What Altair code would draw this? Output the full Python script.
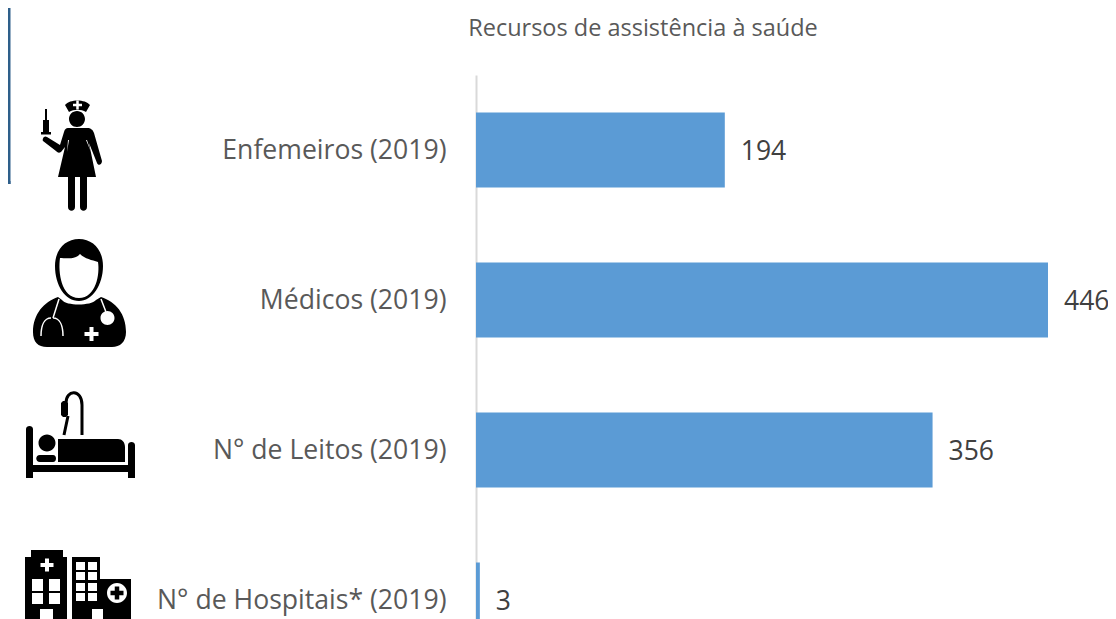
import re
import altair as alt
import pandas as pd

categories = ["Enfemeiros (2019)", "Médicos (2019)", "N° de Leitos (2019)", "N° de Hospitais* (2019)"]
values = [194, 446, 356, 3]
title_text = "Recursos de assistência à saúde"

FONT = "Open Sans"
PX_X0, PX_Y0 = 476, 75


def circle(cx, cy, r):
    k = 0.5523 * r
    return (f"M{cx-r} {cy} C{cx-r} {cy-k} {cx-k} {cy-r} {cx} {cy-r} "
            f"C{cx+k} {cy-r} {cx+r} {cy-k} {cx+r} {cy} "
            f"C{cx+r} {cy+k} {cx+k} {cy+r} {cx} {cy+r} "
            f"C{cx-k} {cy+r} {cx-r} {cy+k} {cx-r} {cy} Z ")


def rect(x0, y0, x1, y1):
    return f"M{x0} {y0} L{x1} {y0} L{x1} {y1} L{x0} {y1} Z "


def plus(cx, cy, s, t):
    return rect(cx - s / 2, cy - t / 2, cx + s / 2, cy + t / 2) + rect(cx - t / 2, cy - s / 2, cx + t / 2, cy + s / 2)


def norm(path, cx, cy, h):
    nums = iter(range(10 ** 6))

    def sub(m):
        i = next(nums)
        v = float(m.group(0))
        c = cx if i % 2 == 0 else cy
        return f"{(v - c) / h:.4f}"

    return re.sub(r"-?\d+\.?\d*", sub, path)


def glyph(path, cx, cy, h, fill=None, stroke=None, sw=1.5):
    kw = dict(shape=norm(path, cx, cy, h), size=(2 * h) ** 2, opacity=1)
    if fill:
        kw.update(filled=True, fill=fill, strokeWidth=0)
    else:
        kw.update(filled=False, stroke=stroke, strokeWidth=sw)
    return alt.Chart(alt.Data(values=[{}])).mark_point(**kw).encode(
        x=alt.value(cx - PX_X0), y=alt.value(cy - PX_Y0)
    )


BLACK, WHITE = "#000000", "#ffffff"

# nurse
nurse_c = (71.5, 155.5, 57)
nurse = (
    "M65 105 C70 99 85 99 90 105 L86 112 C81 109 74 109 69 112 Z "
    + circle(77, 119, 8)
    + "M68 128 L87 128 C91 128 93 130 94 133 L102 161 C102 165 98 166 97 163 L89 143 L96 177 "
      "L87 177 L87 207 C87 212 80 212 80 207 L80 177 L75 177 L75 207 C75 212 68 212 68 207 L68 177 "
      "L58 177 L65 147 L61 152 C59 153 58 153 56 151 L43 141 C42 139 44 135 47 137 L60 145 L64 132 C65 129 66 128 68 128 Z "
    + rect(43, 120, 49, 132) + rect(41, 132, 51, 134.5) + rect(45, 109, 47, 120)
)
nurse_w = plus(77.5, 105, 9, 2.5) + "M69 140 L67 152 L68 140 Z M86 140 L91 152 L87 140 Z "

# doctor
doc_c = (79.5, 293, 57)
doctor = (
    "M79 239 C93 239 103 250 103 266 C103 285 92 301 79 301 C65 301 55 285 55 266 C55 250 65 239 79 239 Z "
    "M58 297 L62 300 C66 306 91 306 96 300 L101 297 C116 302 126 314 126 332 C126 342 120 347 112 347 "
    "L47 347 C38 347 33 342 33 332 C33 314 44 302 58 297 Z "
)
doctor_w = (
    "M80 254 C75 260 65 258 60 258 C58 272 61 298 79 298 C96 298 100 274 98 262 C92 260 85 259 80 254 Z "
    + circle(107.5, 318, 7) + plus(91.5, 334, 14, 4)
)
doctor_s = (
    "M59 299 L53 318 M51 318 C44 318 41 326 41 336 M53 318 C60 318 63 326 63 336 "
    "M101 299 L106 312 "
)

# bed
bed_c = (80.5, 436, 57)
bed = (
    "M26 429 C26 425 33 425 33 429 L33 465 L128 465 L128 445 C128 441 135 441 135 445 L135 478 L128 478 L128 472 "
    "L33 472 L33 478 L26 478 Z "
    + circle(47, 443, 8.5)
    + "M40 455 L53 455 C57 455 57 462 53 462 L40 462 C35 462 35 455 40 455 Z "
    + "M58 439 L118 439 C122 439 125 442 125 447 L125 462 L58 462 Z "
    + "M61 403 L63 401 L66 401 L68 403 L68 415 L66 417 L63 417 L61 415 Z "
)
bed_s = "M82 435 L82 405 C82 389 66 389 66 403 M68 416 L64 435 "

# hospital
hosp_c = (78, 590, 56)
hosp = (
    rect(31, 550, 63, 558) + rect(25, 557, 67, 640)
    + rect(72, 557, 100, 640) + rect(100, 579, 131, 640)
)
hosp_w = (
    plus(47, 565, 13, 4)
    + rect(32, 579, 43, 591) + rect(49, 579, 60, 591)
    + rect(32, 593, 43, 604) + rect(49, 593, 60, 604)
    + rect(40, 609, 53, 640)
    + rect(76, 562, 85, 570) + rect(88, 562, 97, 570)
    + rect(76, 572, 85, 580) + rect(88, 572, 97, 580)
    + rect(76, 583, 85, 591) + rect(88, 583, 97, 591)
    + rect(76, 593, 85, 601) + rect(88, 593, 97, 601)
    + rect(92, 609, 103, 640)
    + circle(117, 593, 10)
)
hosp_b = plus(117, 593, 13, 4.5)

df = pd.DataFrame({"categoria": categories, "valor": values})

y = alt.Y(
    "categoria:N",
    sort=categories,
    title=None,
    scale=alt.Scale(range=[0, 600], paddingInner=0.5, paddingOuter=0.25),
    axis=alt.Axis(
        domainColor="#D9D9D9", domainWidth=2, ticks=False, labelPadding=30, grid=False, labelOffset=1,
        labelFont=FONT, labelFontSize=26.6, labelColor="#595959", labelLimit=400,
    ),
)
x = alt.X("valor:Q", scale=alt.Scale(domain=[0, 632 / 1.2825], nice=False), axis=None)

bars = alt.Chart(df).mark_bar(color="#5B9BD5", cornerRadius=0).encode(x=x, y=y)
labels = alt.Chart(df).mark_text(
    align="left", baseline="middle", dx=16, dy=2, font=FONT, fontSize=26.5, color="#404040"
).encode(x=x, y=y, text="valor:Q")

title = alt.Chart(alt.Data(values=[{}])).mark_text(
    text=title_text, align="center", baseline="middle", font=FONT, fontSize=23.5, color="#595959"
).encode(x=alt.value(643 - PX_X0), y=alt.value(29 - PX_Y0))

box = [
    alt.Chart(alt.Data(values=[{}])).mark_rule(color="#2E5F8A", strokeWidth=3).encode(
        x=alt.value(9 - PX_X0), y=alt.value(0 - PX_Y0), y2=alt.value(184 - PX_Y0)
    ),
    alt.Chart(alt.Data(values=[{}])).mark_rule(color="#2E5F8A", strokeWidth=3).encode(
        x=alt.value(0 - PX_X0), x2=alt.value(10.5 - PX_X0), y=alt.value(182.5 - PX_Y0)
    ),
]

icons = [
    glyph(nurse, *nurse_c, fill=BLACK), glyph(nurse_w, *nurse_c, fill=WHITE),
    glyph(doctor, *doc_c, fill=BLACK), glyph(doctor_w, *doc_c, fill=WHITE),
    glyph(doctor_s, *doc_c, stroke=WHITE, sw=1.5),
    glyph(bed, *bed_c, fill=BLACK), glyph(bed_s, *bed_c, stroke=BLACK, sw=3),
    glyph(hosp, *hosp_c, fill=BLACK), glyph(hosp_w, *hosp_c, fill=WHITE), glyph(hosp_b, *hosp_c, fill=BLACK),
]

chart = alt.layer(bars, labels, title, *box, *icons).properties(
    width=632,
    height=544,
    padding={"left": 468, "top": 67, "right": 0, "bottom": 0},
    autosize=alt.AutoSizeParams(type="none"),
).configure_view(stroke=None)

chart.save("out.html", embed_options={"renderer": "svg", "actions": False})
